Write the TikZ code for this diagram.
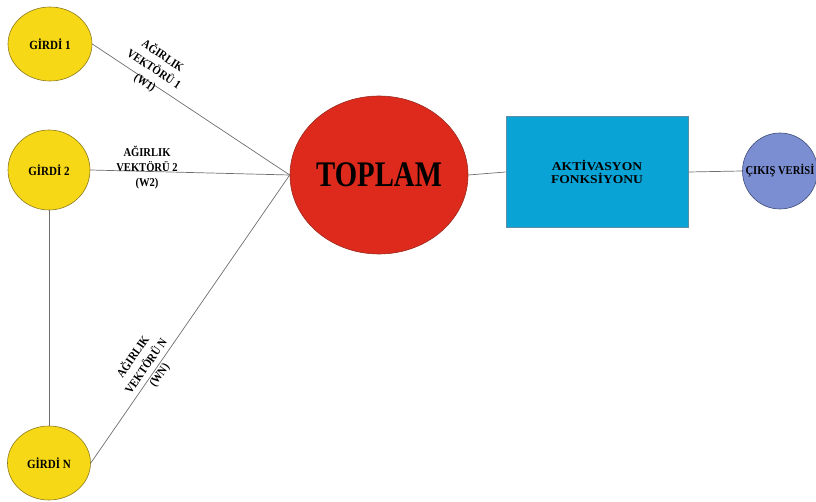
\documentclass[tikz,border=0pt]{standalone}
\usepackage{fontspec}
\setmainfont{Liberation Serif}[FakeStretch=0.88]
\newfontfamily\topfont{Liberation Serif}[FakeStretch=0.8]
\newfontfamily\widefont{Liberation Serif}[FakeStretch=1.13]
\usetikzlibrary{shapes.geometric}
\definecolor{yel}{HTML}{F6D816}
\definecolor{yelb}{HTML}{8C7A1E}
\definecolor{redf}{HTML}{DD2A1C}
\definecolor{redb}{HTML}{9A2A20}
\definecolor{cyanf}{HTML}{0AA3D6}
\definecolor{cyanb}{HTML}{5A8FA8}
\definecolor{violf}{HTML}{7B8ED1}
\definecolor{violb}{HTML}{3E4C78}
\definecolor{linec}{HTML}{6E6E6E}
\begin{document}
\begin{tikzpicture}[x=1pt,y=-1pt,
  inputnode/.style={ellipse, draw=yelb, fill=yel, line width=0.6pt, inner sep=0pt,
     font=\fontsize{12.5}{14}\selectfont\bfseries},
  conn/.style={draw=linec, line width=0.7pt},
  wlabel/.style={align=center, inner sep=0pt, font=\fontsize{12}{16}\selectfont\bfseries}
]
\useasboundingbox (0,0) rectangle (816,502);
\node[inputnode, minimum width=84pt, minimum height=74pt] (g1) at (50,44) {GİRDİ 1};
\node[inputnode, minimum width=82pt, minimum height=80pt] (g2) at (49,170) {GİRDİ 2};
\node[inputnode, minimum width=83pt, minimum height=74pt] (gn) at (49,463) {GİRDİ N};
\node[ellipse, draw=redb, fill=redf, line width=0.6pt, inner sep=0pt,
  minimum width=177pt, minimum height=158pt,
  font=\fontsize{36}{40}\selectfont\topfont\bfseries] (top) at (379,175) {TOPLAM};
\node[rectangle, draw=cyanb, fill=cyanf, line width=0.6pt, inner sep=0pt,
  minimum width=182pt, minimum height=111pt, align=center,
  font=\fontsize{12}{12.5}\selectfont\widefont\bfseries] (act) at (597,172) {AKTİVASYON\\FONKSİYONU};
\node[ellipse, draw=violb, fill=violf, line width=0.6pt, inner sep=0pt,
  minimum width=75pt, minimum height=76pt,
  label={[inner sep=0pt, font=\fontsize{12}{14}\selectfont\bfseries]center:ÇIKIŞ VERİSİ}] (out) at (780,171) {};

\draw[conn] (g1.east) -- (top.west);
\draw[conn] (g2.east) -- (top.west);
\draw[conn] (gn.east) -- (top.west);
\draw[conn] (g2.south) -- (gn.north);
\draw[conn] (top.east) -- (act.west);
\draw[conn] (act.east) -- (out.west);

\node[wlabel, rotate=-33.4] (w1) at (154,69) {AĞIRLIK\\VEKTÖRÜ 1\\(W1)};
\node[wlabel, font=\fontsize{12}{15}\selectfont\bfseries] (w2) at (147,168) {AĞIRLIK\\VEKTÖRÜ 2\\(W2)};
\node[wlabel, rotate=55] (wn) at (146,366) {AĞIRLIK\\VEKTÖRÜ N\\(WN)};
\end{tikzpicture}
\end{document}
